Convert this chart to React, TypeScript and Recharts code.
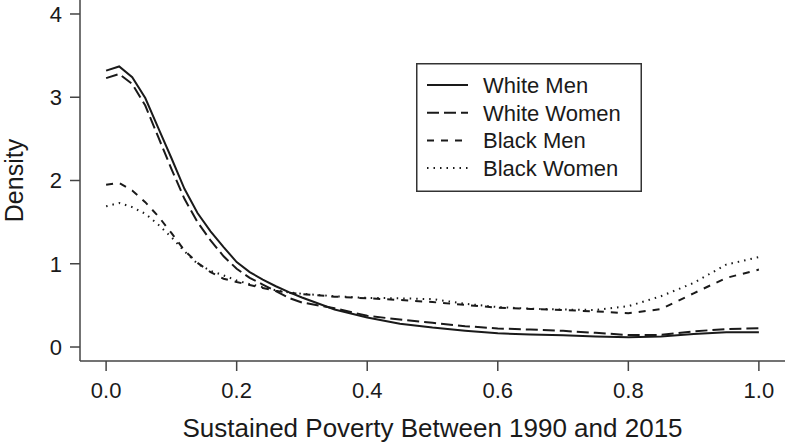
import { Legend, Line, LineChart, XAxis, YAxis } from "recharts"

const xs = [
  0, 0.02, 0.04, 0.06, 0.08, 0.1, 0.12, 0.14, 0.16, 0.18, 0.2, 0.22, 0.24, 0.26, 0.28, 0.3,
  0.35, 0.4, 0.45, 0.5, 0.55, 0.6, 0.65, 0.7, 0.75, 0.8, 0.85, 0.9, 0.95, 1.0,
]

const whiteMen = [
  3.32, 3.37, 3.24, 2.99, 2.63, 2.27, 1.9, 1.61, 1.39, 1.2, 1.02, 0.9, 0.81, 0.73, 0.66, 0.595,
  0.45, 0.355, 0.28, 0.233, 0.195, 0.164, 0.15, 0.14, 0.127, 0.116, 0.126, 0.155, 0.177, 0.176,
]

const whiteWomen = [
  3.23, 3.28, 3.16, 2.9, 2.52, 2.14, 1.78, 1.5, 1.28, 1.09, 0.94, 0.83, 0.75, 0.67, 0.59, 0.535,
  0.465, 0.375, 0.33, 0.29, 0.25, 0.223, 0.21, 0.194, 0.17, 0.144, 0.145, 0.188, 0.216, 0.224,
]

const blackMen = [
  1.95, 1.97, 1.88, 1.74, 1.57, 1.37, 1.16, 1.01, 0.9, 0.82, 0.78, 0.745, 0.71, 0.675, 0.65, 0.635,
  0.605, 0.585, 0.565, 0.54, 0.505, 0.473, 0.457, 0.443, 0.428, 0.405, 0.455, 0.645, 0.83, 0.93,
]

const blackWomen = [
  1.69, 1.73, 1.68, 1.6, 1.47, 1.32, 1.15, 1.0, 0.915, 0.86, 0.8, 0.755, 0.72, 0.68, 0.655, 0.64,
  0.61, 0.59, 0.585, 0.575, 0.52, 0.48, 0.46, 0.45, 0.445, 0.49, 0.61, 0.77, 0.99, 1.08,
]

const xTicks = [0, 0.2, 0.4, 0.6, 0.8, 1.0]
const yTicks = [0, 1, 2, 3, 4]

const series = [
  { key: "wm", name: "White Men", dash: undefined },
  { key: "ww", name: "White Women", dash: "12 5" },
  { key: "bm", name: "Black Men", dash: "7 7" },
  { key: "bw", name: "Black Women", dash: "1.5 5" },
]

const data = xs.map((x, i) => ({
  x,
  wm: whiteMen[i],
  ww: whiteWomen[i],
  bm: blackMen[i],
  bw: blackWomen[i],
}))

const ink = "#1a1a1a"
const axisInk = "#444"
const font = "'Liberation Sans', Arial, Helvetica, sans-serif"

function LegendBox() {
  return (
    <svg width={226} height={129} style={{ display: "block" }}>
      <rect x={0.75} y={0.75} width={224.5} height={127.5} fill="#fff" stroke="#333" strokeWidth={1.5} />
      {series.map((s, i) => {
        const cy = 22 + i * 27.7
        return (
          <g key={s.key}>
            <line x1={11} x2={52} y1={cy} y2={cy} stroke={ink} strokeWidth={2} strokeDasharray={s.dash} />
            <text x={67} y={cy} dy="0.36em" fontSize={22} fill={ink} fontFamily={font}>
              {s.name}
            </text>
          </g>
        )
      })}
    </svg>
  )
}

function XTitle(props: any) {
  const { x, y, width, height } = props.viewBox
  return (
    <text x={x + width / 2} y={y + height - 7} textAnchor="middle" fontSize={26} fill={ink} fontFamily={font}>
      Sustained Poverty Between 1990 and 2015
    </text>
  )
}

function YTitle(props: any) {
  const { y, height } = props.viewBox
  const cx = 23
  const cy = y + height / 2
  return (
    <text x={cx} y={cy} transform={`rotate(-90, ${cx}, ${cy})`} textAnchor="middle" fontSize={25} fill={ink} fontFamily={font}>
      Density
    </text>
  )
}

export default function App() {
  return (
    <div style={{ position: "absolute", left: 0, top: 0, background: "#fff" }}>
      <LineChart width={786} height={444} data={data} margin={{ top: 0, right: 1, bottom: 0, left: 0 }}>
        <XAxis
          dataKey="x"
          type="number"
          domain={[-0.04, 1.04]}
          ticks={xTicks}
          tickFormatter={(v) => v.toFixed(1)}
          height={83}
          tickSize={10}
          tickMargin={11}
          stroke={axisInk}
          strokeWidth={1.5}
          tick={{ fontSize: 22, fill: ink, fontFamily: font }}
          allowDataOverflow
          label={{ content: XTitle }}
        />
        <YAxis
          type="number"
          domain={[-0.168, 4.168]}
          ticks={yTicks}
          width={80}
          tickSize={10}
          tickMargin={8}
          stroke={axisInk}
          strokeWidth={1.5}
          tick={{ fontSize: 22, fill: ink, fontFamily: font }}
          allowDataOverflow
          label={{ content: YTitle }}
        />
        <Legend
          layout="vertical"
          align="center"
          verticalAlign="middle"
          content={() => <LegendBox />}
          wrapperStyle={{ left: 416, top: 63, width: 226, height: 129 }}
        />
        {series.map((s) => (
          <Line
            key={s.key}
            dataKey={s.key}
            name={s.name}
            type="linear"
            stroke={ink}
            strokeWidth={2}
            strokeDasharray={s.dash}
            dot={false}
            activeDot={false}
            isAnimationActive={false}
          />
        ))}
      </LineChart>
    </div>
  )
}
